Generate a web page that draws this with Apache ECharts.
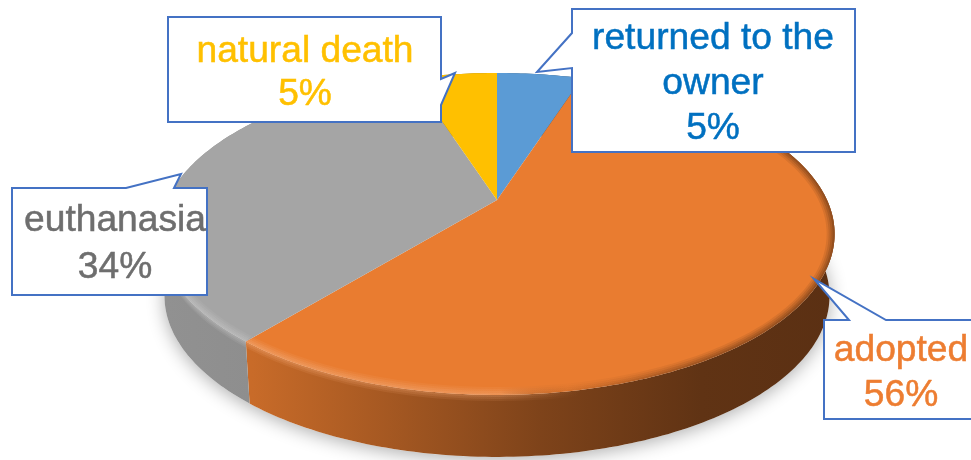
<!DOCTYPE html>
<html><head><meta charset="utf-8">
<style>html,body{margin:0;padding:0;background:#fff}#c{width:971px;height:460px}</style>
<script src="https://cdn.jsdelivr.net/npm/echarts@6/dist/echarts.min.js"></script>
</head><body><div id="c"></div>
<script>
const categories = ['returned to the\nowner', 'adopted', 'euthanasia', 'natural death'];
const shares = [5, 56, 34, 5];
const sliceColors = ['#5B9BD5', '#E97C30', '#A5A5A5', '#FFC000'];
const labelColors = ['#0070C0', '#ED7D31', '#6E6E6E', '#FFC000'];

const chart = echarts.init(document.getElementById('c'), null, {renderer: 'canvas'});
const LG = echarts.graphic.LinearGradient;
const cx = 497, cy = 200, k = 0.211, A = 153.8, B = 330, depth = 62, shrink = 0.985;
const total = shares.reduce((a, b) => a + b, 0);
const startOf = i => shares.slice(0, i).reduce((a, b) => a + b, 0) / total;

function rim(t) {
  const a = 2 * Math.PI * t, u = Math.sin(a), v = -Math.cos(a), s = 1 - k * v;
  return [cx + B * u / s, cy + A * v / s];
}
function foot(p) { return [cx + (p[0] - cx) * shrink, p[1] + depth]; }
function inward(p, d) { return [cx + (p[0] - cx) * (1 - d / 338), 234 + (p[1] - 234) * (1 - d / 162)]; }
function arc(t0, t1) {
  const n = Math.max(2, Math.ceil((t1 - t0) * 360)), pts = [];
  for (let i = 0; i <= n; i++) pts.push(rim(t0 + (t1 - t0) * i / n));
  return pts;
}
function rgb(hex) {
  const n = parseInt(hex.slice(1), 16);
  return [(n >> 16) & 255, (n >> 8) & 255, n & 255];
}
function shade(hex, f) {
  return 'rgb(' + rgb(hex).map(c => Math.round(c * f)).join(',') + ')';
}
function wallFill(col) {
  return new LG(165, 0, 835, 0, [
    {offset: 0, color: shade(col, 0.88)},
    {offset: 0.13, color: shade(col, 0.86)},
    {offset: 0.56, color: shade(col, 0.54)},
    {offset: 0.8, color: shade(col, 0.41)},
    {offset: 1, color: shade(col, 0.39)}
  ], true);
}
function bevel(col, alpha) {
  const lift = rgb(col).map(c => Math.round(c + (255 - c) * 0.32)).join(',');
  const dark = rgb(col).map(c => Math.round(c * 0.42)).join(',');
  return new LG(165, 0, 835, 0, [
    {offset: 0, color: `rgba(${lift},${alpha})`},
    {offset: 0.5, color: `rgba(${lift},${alpha * 0.8})`},
    {offset: 0.6, color: `rgba(${dark},${alpha * 0.15})`},
    {offset: 0.8, color: `rgba(${dark},${alpha * 0.8})`},
    {offset: 1, color: `rgba(${dark},${alpha})`}
  ], true);
}
function glow(col, alpha) {
  const lift = rgb(col).map(c => Math.round(c + (255 - c) * 0.3)).join(',');
  return new LG(165, 0, 835, 0, [
    {offset: 0, color: `rgba(${lift},${alpha})`},
    {offset: 0.5, color: `rgba(${lift},${alpha * 0.7})`},
    {offset: 0.62, color: `rgba(${lift},0)`},
    {offset: 1, color: `rgba(${lift},0)`}
  ], true);
}

const callouts = [
  {pts: [[572,9],[855,9],[855,152],[572,152],[572,68],[537,72],[572,33]], x: 713, y: 84, lh: 45},
  {pts: [[824,320],[849,320],[814,279],[886,320],[976,320],[976,419],[824,419]], x: 901, y: 373, lh: 45},
  {pts: [[12,188],[126,188],[181,174],[174,188],[207,188],[207,295],[12,295]], x: 115, y: 244, lh: 47},
  {pts: [[168,17],[441,17],[441,79],[455,73],[441,105],[441,122],[168,122]], x: 305, y: 73, lh: 43}
];

chart.setOption({
  animation: false,
  backgroundColor: '#fff',
  series: [
    { // soft ground shadow
      type: 'custom', coordinateSystem: 'none', silent: true, data: [0], z: 1,
      renderItem: () => ({
        type: 'polygon',
        shape: {points: arc(0, 1).map(foot)},
        style: {fill: '#fff', shadowBlur: 18, shadowColor: 'rgba(0,0,0,0.32)', shadowOffsetY: 3}
      })
    },
    { // side walls
      type: 'custom', coordinateSystem: 'none', silent: true, z: 2,
      data: shares.map(v => [v]),
      renderItem: (params) => {
        const i = params.dataIndex, pts = arc(startOf(i), startOf(i + 1));
        return {
          type: 'polygon',
          shape: {points: pts.concat(pts.map(foot).reverse())},
          style: {fill: wallFill(sliceColors[i])}
        };
      }
    },
    { // top faces with bevelled rim
      type: 'custom', coordinateSystem: 'none', silent: true, z: 3,
      data: shares.map(v => [v]),
      renderItem: (params) => {
        const i = params.dataIndex, t0 = startOf(i), t1 = startOf(i + 1), col = sliceColors[i];
        const children = [{type: 'polygon', shape: {points: [[cx, cy]].concat(arc(t0, t1))}, style: {fill: col}}];
        const b0 = Math.max(t0, 0.1), b1 = Math.min(t1, 0.76);
        if (b1 > b0) {
          const pts = arc(b0, b1);
          [[8, 0.14], [6, 0.18], [4, 0.24], [2, 0.3]].forEach(([d, a]) => {
            children.push({type: 'polygon',
              shape: {points: pts.concat(pts.map(p => inward(p, d)).reverse())},
              style: {fill: bevel(col, a)}});
          });
          const f0 = Math.max(t0, 0.36), wp = f0 < b1 ? arc(f0, b1) : null;
          if (wp) [[6, 0.16], [4, 0.2], [2, 0.25]].forEach(([d, a]) => {
            children.push({type: 'polygon',
              shape: {points: wp.concat(wp.map(p => [p[0], p[1] + d]).reverse())},
              style: {fill: glow(col, a)}});
          });
        }
        return {type: 'group', children};
      }
    }
  ],
  graphic: callouts.flatMap((c, i) => [
    {type: 'polygon', z: 10, silent: true, shape: {points: c.pts},
      style: {fill: '#fff', stroke: '#4472C4', lineWidth: 2, lineJoin: 'miter'}},
    {type: 'text', z: 11, silent: true, x: c.x, y: c.y,
      style: {text: categories[i] + '\n' + shares[i] + '%', fill: labelColors[i],
        stroke: labelColors[i], lineWidth: 0.5,
        font: '37.2px "Liberation Sans", Arial, sans-serif', lineHeight: c.lh,
        align: 'center', verticalAlign: 'middle'}}
  ])
});
</script></body></html>
